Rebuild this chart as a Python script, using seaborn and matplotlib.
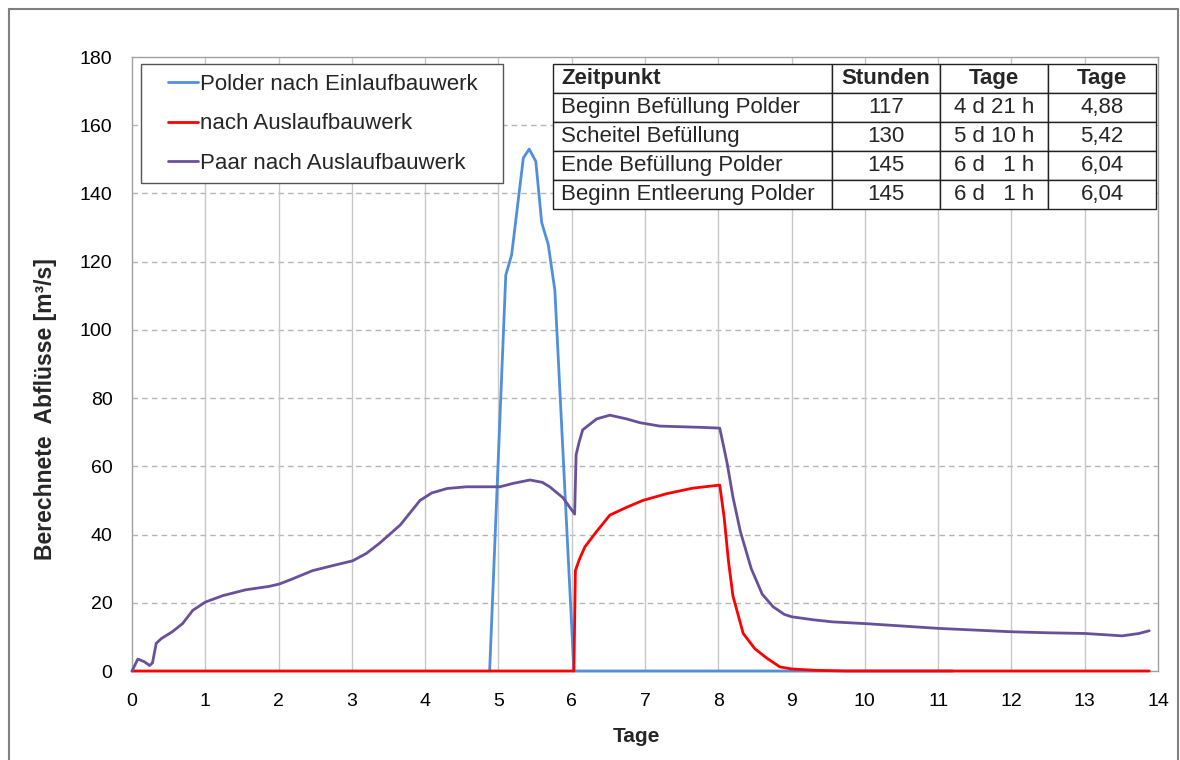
import numpy as np
import pandas as pd
import matplotlib
matplotlib.use("Agg")
import matplotlib.pyplot as plt
from matplotlib.patches import Rectangle
import seaborn as sns

# ---------------- data ----------------
series_names = ["Polder nach Einlaufbauwerk", "nach Auslaufbauwerk", "Paar nach Auslaufbauwerk"]

t_blue = [4.88, 5.10, 5.18, 5.34, 5.42, 5.51, 5.59, 5.68, 5.77, 6.03, 6.10, 11.2]
q_blue = [0, 116, 122, 150.4, 153, 149.4, 131.5, 125, 111.6, 0, 0, 0]

t_red = [0, 6.03, 6.05, 6.10, 6.18, 6.34, 6.52, 6.75, 6.97, 7.30, 7.65, 8.02,
         8.08, 8.14, 8.20, 8.34, 8.50, 8.66, 8.84, 9.00, 9.33, 9.74, 10.5, 13.88]
q_red = [0, 0, 29.4, 32.5, 36.4, 40.9, 45.7, 48, 50, 52, 53.6, 54.5,
         45, 32, 22, 11, 6.5, 3.8, 1.2, 0.6, 0.2, 0, 0, 0]

t_purple = [0, 0.08, 0.17, 0.24, 0.28, 0.33, 0.40, 0.55, 0.69, 0.83, 1.0, 1.24,
            1.55, 1.87, 2.01, 2.19, 2.46, 2.74, 3.01, 3.20, 3.38, 3.66, 3.93, 4.09,
            4.30, 4.56, 4.88, 5.02, 5.20, 5.43, 5.60, 5.70, 5.88, 6.04, 6.06, 6.10,
            6.15, 6.34, 6.52, 6.75, 6.93, 7.20, 7.50, 7.80, 8.02, 8.12, 8.20, 8.30,
            8.45, 8.60, 8.75, 8.90, 9.00, 9.30, 9.56, 10.0, 10.5, 11.0, 11.5, 12.0,
            12.5, 13.0, 13.3, 13.51, 13.74, 13.88]
q_purple = [0, 3.5, 2.7, 1.6, 2.4, 8.1, 9.5, 11.5, 13.9, 17.8, 20.2, 22.1,
            23.8, 24.8, 25.5, 27, 29.4, 30.9, 32.3, 34.5, 37.5, 42.8, 50, 52.2,
            53.5, 54, 54, 54, 55, 56, 55.3, 54, 50.8, 46, 63.4, 67,
            70.7, 73.9, 75, 73.9, 72.8, 71.8, 71.6, 71.4, 71.2, 61, 51, 41,
            30, 22.5, 18.8, 16.6, 15.9, 15.0, 14.4, 13.9, 13.2, 12.5, 12.0, 11.5,
            11.2, 11.0, 10.6, 10.3, 11.0, 11.8]

table_header = ["Zeitpunkt", "Stunden", "Tage", "Tage"]
table_events = ["Beginn Befüllung Polder", "Scheitel Befüllung", "Ende Befüllung Polder", "Beginn Entleerung Polder"]
table_hours = ["117", "130", "145", "145"]
table_dh = ["4 d 21 h", "5 d 10 h", "6 d   1 h", "6 d   1 h"]
table_days = ["4,88", "5,42", "6,04", "6,04"]

x_ticks = list(range(0, 15))
y_ticks = list(range(0, 181, 20))

colors = ["#4F8FDB", "#FF0000", "#69509A"]

# ---------------- figure ----------------
sns.set_theme(style="white")
plt.rcParams["font.family"] = ["Liberation Sans", "DejaVu Sans"]

fig = plt.figure(figsize=(11.8, 7.6), dpi=100)
ax = fig.add_axes([132 / 1180, 1 - 671 / 760, 1026 / 1180, 614 / 760])

df = pd.concat([
    pd.DataFrame({"Tage": t_blue, "Q": q_blue, "Serie": series_names[0]}),
    pd.DataFrame({"Tage": t_red, "Q": q_red, "Serie": series_names[1]}),
    pd.DataFrame({"Tage": t_purple, "Q": q_purple, "Serie": series_names[2]}),
], ignore_index=True)

sns.lineplot(data=df, x="Tage", y="Q", hue="Serie", hue_order=series_names,
             palette=colors, estimator=None, sort=False, linewidth=2.0,
             legend=False, ax=ax, clip_on=False, zorder=3)

ax.set_xlim(0, 14)
ax.set_ylim(0, 180)
ax.set_xticks(x_ticks)
ax.set_yticks(y_ticks)
ax.tick_params(axis="both", which="major", labelsize=14, labelcolor="#000000",
               direction="out", length=5, width=1, color="#999999")
ax.tick_params(axis="x", pad=11)
ax.tick_params(axis="y", pad=9)

# grid
for y in y_ticks[1:-1]:
    ax.axhline(y, color="#b5b5b5", lw=1.0, ls=(0, (4, 3)), zorder=1)
for x in x_ticks[1:-1]:
    ax.axvline(x, color="#c8c8c8", lw=1.0, zorder=1)

for s in ax.spines.values():
    s.set_color("#a0a0a0")
    s.set_linewidth(1.0)

ax.set_xlabel("Tage", fontsize=15, fontweight="bold")
ax.xaxis.set_label_coords((636 - 132) / 1026, (671 - 727) / 614)
ax.set_ylabel("Berechnete  Abflüsse [m³/s]", fontsize=16.5, fontweight="bold")
ax.yaxis.set_label_coords((57 - 132) / 1026, (671 - 409) / 614)

# legend
handles = ax.get_lines()[:3]
legend_box = Rectangle((9 / 1026, (671 - 183) / 614), 362 / 1026, 119 / 614,
                       transform=ax.transAxes, facecolor="white", edgecolor="#555555",
                       lw=1.0, zorder=4)
ax.add_patch(legend_box)
leg = ax.legend(handles, series_names, loc="upper left",
                bbox_to_anchor=((168 - 132) / 1026, (671 - 74) / 614),
                borderaxespad=0, borderpad=0, frameon=False, fontsize=16,
                handlelength=1.35, handletextpad=0.08, labelspacing=0.83)
leg.set_zorder(5)

# table
cell_text = [[e, h, d, t] for e, h, d, t in zip(table_events, table_hours, table_dh, table_days)]
tbl = ax.table(cellText=cell_text, colLabels=table_header,
               colWidths=[279 / 603, 108 / 603, 108 / 603, 108 / 603],
               cellLoc="center",
               bbox=[(553 - 132) / 1026, (671 - 209) / 614, 603 / 1026, 145 / 614])
tbl.auto_set_font_size(False)
tbl.set_fontsize(16)
tbl.set_zorder(6)
for (r, c), cell in tbl.get_celld().items():
    cell.set_edgecolor("#222222")
    cell.set_linewidth(1.0)
    cell.set_facecolor("white")
    cell.PAD = 0.03
    if c == 0:
        cell.set_text_props(ha="left")
        cell._loc = "left"
    if r == 0:
        cell.set_text_props(fontweight="bold")

# outer frame
frame = Rectangle((9 / 1180, -0.02), (1178 - 9) / 1180, 1.02 - 9 / 760,
                  transform=fig.transFigure, facecolor="none", edgecolor="#808080",
                  lw=1.5, clip_on=False)
fig.patches.append(frame)

fig.savefig("out.png", dpi=100)
